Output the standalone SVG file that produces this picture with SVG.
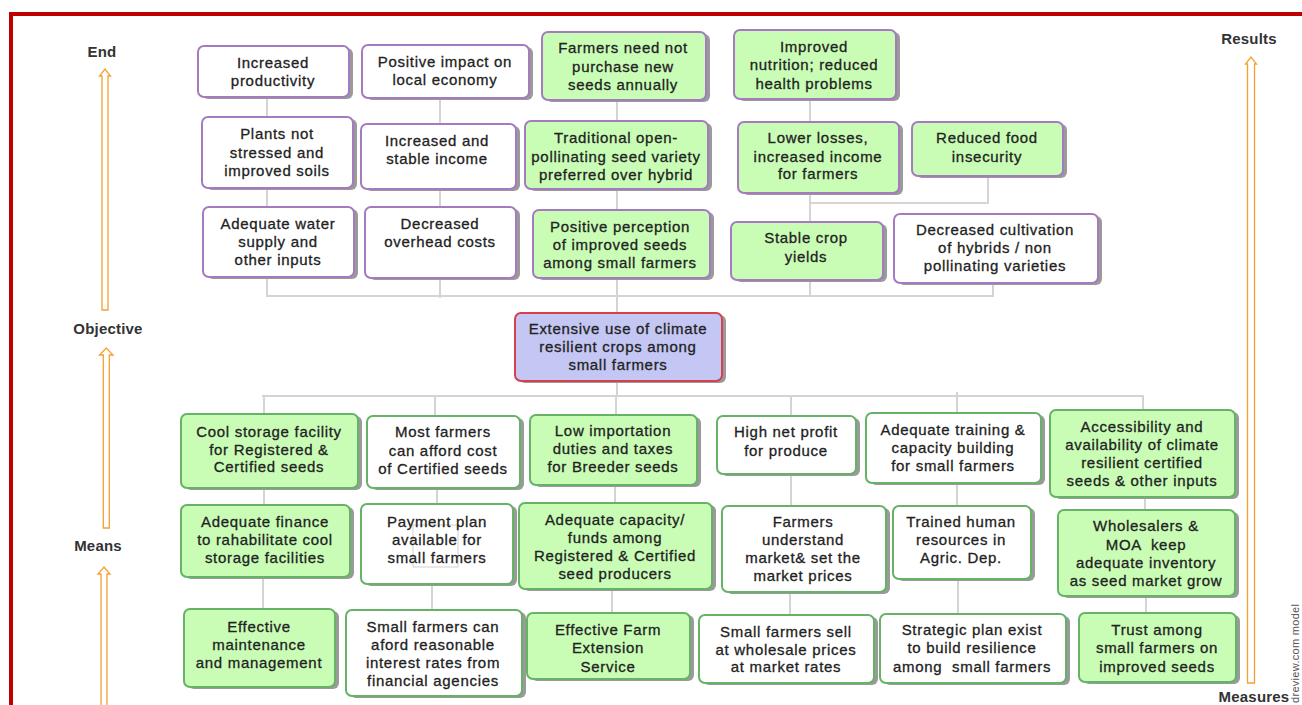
<svg xmlns="http://www.w3.org/2000/svg" width="1302" height="705" viewBox="0 0 1302 705">
<style>
  .sh { fill: #9a9a9a; }
  .pw { fill: #ffffff; stroke: #a57bbf; stroke-width: 2; }
  .pg { fill: #c9fdb6; stroke: #a57bbf; stroke-width: 2; }
  .gw { fill: #ffffff; stroke: #66b266; stroke-width: 2; }
  .gg { fill: #c9fdb6; stroke: #66b266; stroke-width: 2; }
  .cb { fill: #c4c6f3; stroke: #d5404a; stroke-width: 2; }
  text { font-family: "Liberation Sans", Arial, sans-serif; font-size: 15px; fill: #222222; stroke: #222222; stroke-width: 0.3px; text-anchor: middle; letter-spacing: 0.7px; }
  .ax { font-weight: bold; fill: #333333; stroke: none; letter-spacing: 0.2px; }
  .wm { font-size: 11px; fill: #555555; stroke: none; text-anchor: start; letter-spacing: 0.3px; }
  .cn { stroke: #d4d4d4; stroke-width: 2; fill: none; }
  .ar { fill: #ffffff; stroke: #f5a030; stroke-width: 1.3; }
</style>

<!-- frame -->
<g id="frame">
  <rect x="9" y="12" width="1293" height="4" fill="#c00000"/>
  <rect x="9" y="12" width="4" height="693" fill="#c00000"/>
</g>

<!-- level axes -->
<g id="axis-left">
  <text class="ax" x="102" y="57">End</text>
  <path class="ar" d="M102,310 V76 H99.5 L105,69 L110.5,76 H108 V310 Z"/>
  <text class="ax" x="108" y="334">Objective</text>
  <path class="ar" d="M103.3,528 V355 H99.5 L106.3,348 L113,355 H109.3 V528 Z"/>
  <text class="ax" x="98" y="551">Means</text>
  <path class="ar" d="M101,710 V574 H98 L104,567 L110,574 H107 V710 Z"/>
</g>
<g id="axis-right">
  <text class="ax" x="1249" y="44">Results</text>
  <path class="ar" d="M1247.5,683 V64 H1245.5 L1251,57 L1256.5,64 H1254.5 V683 Z"/>
  <text class="ax" x="1254" y="702">Measures</text>
</g>
<text class="wm" transform="translate(1299,703) rotate(-90)">dreview.com model</text>

<!-- connectors -->
<g id="connectors">
  <!-- upper tree -->
  <path class="cn" d="M267,97 V117 M267,188 V207 M267,277 V296"/>
  <path class="cn" d="M440,98 V124 M440,189 V207 M440,278 V298"/>
  <path class="cn" d="M617,100 V121 M617,189 V210 M617,278 V313"/>
  <path class="cn" d="M810,99 V122 M810,193 V222 M810,280 V296 M810,203 H988 V176"/>
  <path class="cn" d="M993,283 V296"/>
  <path class="cn" d="M266,296 H994"/>
  <!-- lower tree -->
  <path class="cn" d="M617,381 V396 M262,396 H1144"/>
  <path class="cn" d="M264,396 V414 M264,488 V505 M263,577 V609"/>
  <path class="cn" d="M435,396 V416 M437,488 V505 M432,584 V610"/>
  <path class="cn" d="M616,396 V415 M615,485 V503 M612,589 V613"/>
  <path class="cn" d="M791,396 V416 M791,474 V506 M790,592 V615"/>
  <path class="cn" d="M957,392 V413 M957,483 V506 M958,579 V614"/>
  <path class="cn" d="M1143,396 V410 M1145,497 V510 M1146,596 V613"/>
</g>

<!-- upper tree nodes -->
<g id="n-increased-productivity">
  <rect class="sh" x="202" y="48" width="151" height="51" rx="6"/>
  <rect class="pw" x="198" y="46" width="151" height="51" rx="6"/>
  <text><tspan x="273" y="68">Increased</tspan><tspan x="273" y="86">productivity</tspan></text>
</g>
<g id="n-local-economy">
  <rect class="sh" x="366" y="47" width="167" height="53" rx="6"/>
  <rect class="pw" x="362" y="45" width="167" height="53" rx="6"/>
  <text><tspan x="445" y="67">Positive impact on</tspan><tspan x="445" y="85">local economy</tspan></text>
</g>
<g id="n-no-new-seeds">
  <rect class="sh" x="546" y="34" width="164" height="68" rx="6"/>
  <rect class="pg" x="542" y="32" width="164" height="68" rx="6"/>
  <text><tspan x="623" y="53">Farmers need not</tspan><tspan x="623" y="72">purchase new</tspan><tspan x="623" y="90">seeds annually</tspan></text>
</g>
<g id="n-nutrition">
  <rect class="sh" x="738" y="32" width="162" height="69" rx="6"/>
  <rect class="pg" x="734" y="30" width="162" height="69" rx="6"/>
  <text><tspan x="814" y="52">Improved</tspan><tspan x="814" y="70">nutrition; reduced</tspan><tspan x="814" y="89">health problems</tspan></text>
</g>
<g id="n-plants-not-stressed">
  <rect class="sh" x="206" y="119" width="151" height="71" rx="6"/>
  <rect class="pw" x="202" y="117" width="151" height="71" rx="6"/>
  <text><tspan x="277" y="139">Plants not</tspan><tspan x="277" y="158">stressed and</tspan><tspan x="277" y="176">improved soils</tspan></text>
</g>
<g id="n-stable-income">
  <rect class="sh" x="365" y="126" width="155" height="65" rx="6"/>
  <rect class="pw" x="361" y="124" width="155" height="65" rx="6"/>
  <text><tspan x="437" y="146">Increased and</tspan><tspan x="437" y="164">stable income</tspan></text>
</g>
<g id="n-open-pollinating">
  <rect class="sh" x="529" y="123" width="183" height="68" rx="6"/>
  <rect class="pg" x="525" y="121" width="183" height="68" rx="6"/>
  <text><tspan x="616" y="143">Traditional open-</tspan><tspan x="616" y="162">pollinating seed variety</tspan><tspan x="616" y="180">preferred over hybrid</tspan></text>
</g>
<g id="n-lower-losses">
  <rect class="sh" x="742" y="124" width="161" height="71" rx="6"/>
  <rect class="pg" x="738" y="122" width="161" height="71" rx="6"/>
  <text><tspan x="818" y="143">Lower losses,</tspan><tspan x="818" y="162">increased income</tspan><tspan x="818" y="179">for farmers</tspan></text>
</g>
<g id="n-food-insecurity">
  <rect class="sh" x="916" y="124" width="151" height="54" rx="6"/>
  <rect class="pg" x="912" y="122" width="151" height="54" rx="6"/>
  <text><tspan x="987" y="143">Reduced food</tspan><tspan x="987" y="162">insecurity</tspan></text>
</g>
<g id="n-water-supply">
  <rect class="sh" x="207" y="209" width="151" height="70" rx="6"/>
  <rect class="pw" x="203" y="207" width="151" height="70" rx="6"/>
  <text><tspan x="278" y="229">Adequate water</tspan><tspan x="278" y="247">supply and</tspan><tspan x="278" y="265">other inputs</tspan></text>
</g>
<g id="n-overhead-costs">
  <rect class="sh" x="369" y="209" width="151" height="71" rx="6"/>
  <rect class="pw" x="365" y="207" width="151" height="71" rx="6"/>
  <text><tspan x="440" y="229">Decreased</tspan><tspan x="440" y="247">overhead costs</tspan></text>
</g>
<g id="n-positive-perception">
  <rect class="sh" x="537" y="212" width="177" height="68" rx="6"/>
  <rect class="pg" x="533" y="210" width="177" height="68" rx="6"/>
  <text><tspan x="620" y="232">Positive perception</tspan><tspan x="620" y="250">of improved seeds</tspan><tspan x="620" y="268">among small farmers</tspan></text>
</g>
<g id="n-stable-yields">
  <rect class="sh" x="735" y="224" width="152" height="58" rx="6"/>
  <rect class="pg" x="731" y="222" width="152" height="58" rx="6"/>
  <text><tspan x="806" y="243">Stable crop</tspan><tspan x="806" y="262">yields</tspan></text>
</g>
<g id="n-less-hybrids">
  <rect class="sh" x="898" y="216" width="204" height="69" rx="6"/>
  <rect class="pw" x="894" y="214" width="204" height="69" rx="6"/>
  <text><tspan x="995" y="235">Decreased cultivation</tspan><tspan x="995" y="253">of hybrids / non</tspan><tspan x="995" y="271">pollinating varieties</tspan></text>
</g>

<!-- objective -->
<g id="n-objective">
  <rect class="sh" x="519" y="315" width="207" height="68" rx="6"/>
  <rect class="cb" x="515" y="313" width="207" height="68" rx="6"/>
  <text><tspan x="618" y="334">Extensive use of climate</tspan><tspan x="618" y="352">resilient crops among</tspan><tspan x="618" y="370">small farmers</tspan></text>
</g>

<!-- lower tree nodes, first row -->
<g id="n-cool-storage">
  <rect class="sh" x="185" y="416" width="177" height="74" rx="6"/>
  <rect class="gg" x="181" y="414" width="177" height="74" rx="6"/>
  <text><tspan x="269" y="437">Cool storage facility</tspan><tspan x="269" y="455">for Registered &amp;</tspan><tspan x="269" y="472">Certified seeds</tspan></text>
</g>
<g id="n-afford-cost">
  <rect class="sh" x="371" y="418" width="153" height="72" rx="6"/>
  <rect class="gw" x="367" y="416" width="153" height="72" rx="6"/>
  <text><tspan x="443" y="437">Most farmers</tspan><tspan x="443" y="456">can afford cost</tspan><tspan x="443" y="474">of Certified seeds</tspan></text>
</g>
<g id="n-low-duties">
  <rect class="sh" x="534" y="417" width="167" height="70" rx="6"/>
  <rect class="gg" x="530" y="415" width="167" height="70" rx="6"/>
  <text><tspan x="613" y="436">Low importation</tspan><tspan x="613" y="454">duties and taxes</tspan><tspan x="613" y="472">for Breeder seeds</tspan></text>
</g>
<g id="n-net-profit">
  <rect class="sh" x="721" y="418" width="139" height="58" rx="6"/>
  <rect class="gw" x="717" y="416" width="139" height="58" rx="6"/>
  <text><tspan x="786" y="437">High net profit</tspan><tspan x="786" y="456">for produce</tspan></text>
</g>
<g id="n-training">
  <rect class="sh" x="870" y="415" width="175" height="70" rx="6"/>
  <rect class="gw" x="866" y="413" width="175" height="70" rx="6"/>
  <text><tspan x="953" y="435">Adequate training &amp;</tspan><tspan x="953" y="453">capacity building</tspan><tspan x="953" y="471">for small farmers</tspan></text>
</g>
<g id="n-accessibility">
  <rect class="sh" x="1054" y="412" width="185" height="87" rx="6"/>
  <rect class="gg" x="1050" y="410" width="185" height="87" rx="6"/>
  <text><tspan x="1142" y="432">Accessibility and</tspan><tspan x="1142" y="450">availability of climate</tspan><tspan x="1142" y="468">resilient certified</tspan><tspan x="1142" y="486">seeds &amp; other inputs</tspan></text>
</g>

<!-- lower tree nodes, second row -->
<g id="n-finance">
  <rect class="sh" x="185" y="507" width="169" height="72" rx="6"/>
  <rect class="gg" x="181" y="505" width="169" height="72" rx="6"/>
  <text><tspan x="265" y="527">Adequate finance</tspan><tspan x="265" y="545">to rahabilitate cool</tspan><tspan x="265" y="563">storage facilities</tspan></text>
</g>
<g id="n-payment-plan">
  <rect class="sh" x="365" y="506" width="152" height="80" rx="6"/>
  <rect class="gw" x="361" y="504" width="152" height="80" rx="6"/>
  <rect x="413" y="525" width="45" height="42" fill="none" stroke="#d0d0d0" stroke-width="1"/>
  <text><tspan x="437" y="527">Payment plan</tspan><tspan x="437" y="545">available for</tspan><tspan x="437" y="563">small farmers</tspan></text>
</g>
<g id="n-producer-capacity">
  <rect class="sh" x="523" y="505" width="193" height="86" rx="6"/>
  <rect class="gg" x="519" y="503" width="193" height="86" rx="6"/>
  <text><tspan x="615" y="525">Adequate capacity/</tspan><tspan x="615" y="543">funds among</tspan><tspan x="615" y="561">Registered &amp; Certified</tspan><tspan x="615" y="579">seed producers</tspan></text>
</g>
<g id="n-market-prices">
  <rect class="sh" x="726" y="508" width="164" height="86" rx="6"/>
  <rect class="gw" x="722" y="506" width="164" height="86" rx="6"/>
  <text><tspan x="803" y="527">Farmers</tspan><tspan x="803" y="545">understand</tspan><tspan x="803" y="563">market&amp; set the</tspan><tspan x="803" y="581">market prices</tspan></text>
</g>
<g id="n-human-resources">
  <rect class="sh" x="897" y="508" width="138" height="73" rx="6"/>
  <rect class="gw" x="893" y="506" width="138" height="73" rx="6"/>
  <text><tspan x="961" y="527">Trained human</tspan><tspan x="961" y="545">resources in</tspan><tspan x="961" y="563">Agric. Dep.</tspan></text>
</g>
<g id="n-inventory">
  <rect class="sh" x="1062" y="512" width="177" height="86" rx="6"/>
  <rect class="gg" x="1058" y="510" width="177" height="86" rx="6"/>
  <text><tspan x="1146" y="531">Wholesalers &amp;</tspan><tspan x="1146" y="550" xml:space="preserve">MOA  keep</tspan><tspan x="1146" y="568">adequate inventory</tspan><tspan x="1146" y="586">as seed market grow</tspan></text>
</g>

<!-- lower tree nodes, third row -->
<g id="n-maintenance">
  <rect class="sh" x="188" y="611" width="151" height="78" rx="6"/>
  <rect class="gg" x="184" y="609" width="151" height="78" rx="6"/>
  <text><tspan x="259" y="632">Effective</tspan><tspan x="259" y="650">maintenance</tspan><tspan x="259" y="668">and management</tspan></text>
</g>
<g id="n-interest-rates">
  <rect class="sh" x="350" y="612" width="176" height="86" rx="6"/>
  <rect class="gw" x="346" y="610" width="176" height="86" rx="6"/>
  <text><tspan x="433" y="632">Small farmers can</tspan><tspan x="433" y="650">aford reasonable</tspan><tspan x="433" y="668">interest rates from</tspan><tspan x="433" y="686">financial agencies</tspan></text>
</g>
<g id="n-extension-service">
  <rect class="sh" x="531" y="615" width="163" height="66" rx="6"/>
  <rect class="gg" x="527" y="613" width="163" height="66" rx="6"/>
  <text><tspan x="608" y="635">Effective Farm</tspan><tspan x="608" y="653">Extension</tspan><tspan x="608" y="672">Service</tspan></text>
</g>
<g id="n-wholesale-prices">
  <rect class="sh" x="703" y="617" width="175" height="68" rx="6"/>
  <rect class="gw" x="699" y="615" width="175" height="68" rx="6"/>
  <text><tspan x="786" y="637">Small farmers sell</tspan><tspan x="786" y="655">at wholesale prices</tspan><tspan x="786" y="672">at market rates</tspan></text>
</g>
<g id="n-strategic-plan">
  <rect class="sh" x="884" y="616" width="186" height="69" rx="6"/>
  <rect class="gw" x="880" y="614" width="186" height="69" rx="6"/>
  <text><tspan x="972" y="635">Strategic plan exist</tspan><tspan x="972" y="653">to build resilience</tspan><tspan x="972" y="672" xml:space="preserve">among  small farmers</tspan></text>
</g>
<g id="n-trust">
  <rect class="sh" x="1083" y="615" width="157" height="69" rx="6"/>
  <rect class="gg" x="1079" y="613" width="157" height="69" rx="6"/>
  <text><tspan x="1157" y="635">Trust among</tspan><tspan x="1157" y="653">small farmers on</tspan><tspan x="1157" y="672">improved seeds</tspan></text>
</g>
</svg>
